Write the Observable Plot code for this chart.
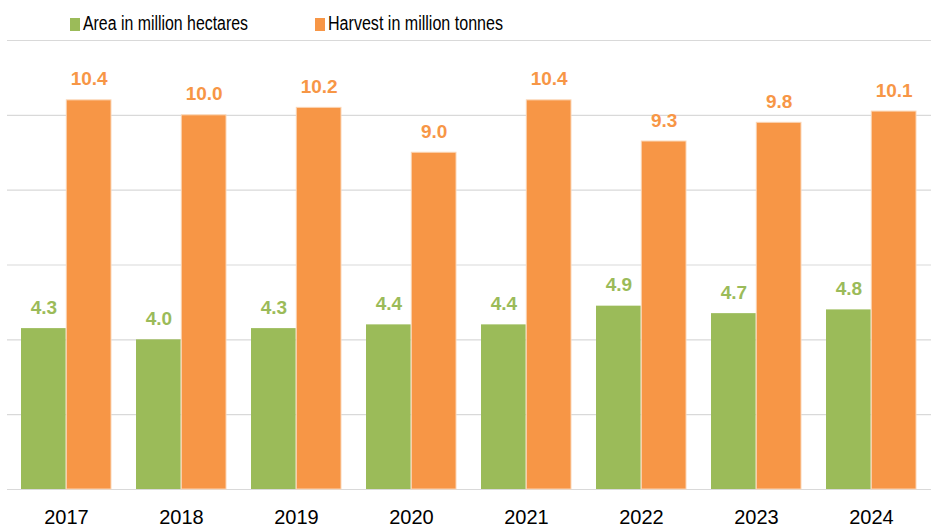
<!DOCTYPE html>
<html>
<head>
<meta charset="utf-8">
<script src="https://cdn.jsdelivr.net/npm/d3@7"></script>
<script src="https://cdn.jsdelivr.net/npm/@observablehq/plot@0.6"></script>
<style>
  html, body { margin: 0; padding: 0; background: #fff; overflow: hidden; }
  #legend { display: block; }
  #chart svg { display: block; }
</style>
</head>
<body>
<svg id="legend" width="931" height="36"></svg>
<div id="chart"></div>
<script>
const years = ["2017", "2018", "2019", "2020", "2021", "2022", "2023", "2024"];
const area = [4.3, 4.0, 4.3, 4.4, 4.4, 4.9, 4.7, 4.8];
const harvest = [10.4, 10.0, 10.2, 9.0, 10.4, 9.3, 9.8, 10.1];
const seriesNames = ["Area in million hectares", "Harvest in million tonnes"];
const colors = ["#9BBB59", "#F79646"];
const yTicks = [0, 2, 4, 6, 8, 10, 12];

const table = years.map((y, i) => ({year: y, area: area[i], harvest: harvest[i]}));

// Legend
const lg = d3.select("#legend");
const legendX = [70, 315];
const legendW = [165, 175];
seriesNames.forEach((name, i) => {
  lg.append("rect").attr("x", legendX[i]).attr("y", 18).attr("width", 10).attr("height", 13).attr("fill", colors[i]);
  lg.append("text")
    .attr("x", legendX[i] + 13)
    .attr("y", 30)
    .attr("textLength", legendW[i])
    .attr("lengthAdjust", "spacingAndGlyphs")
    .attr("font-family", "Liberation Sans, Arial, sans-serif")
    .attr("font-size", 19.5)
    .attr("fill", "#000")
    .text(name);
});

const half = 45.3;
const font = "Liberation Sans, Arial, sans-serif";

const plot = Plot.plot({
  width: 931,
  height: 493,
  marginTop: 4,
  marginBottom: 40,
  marginLeft: 7,
  marginRight: 0,
  style: {fontFamily: font, background: "#fff"},
  x: {domain: years, paddingInner: 0.215, paddingOuter: 0.1075, label: null},
  y: {domain: [0, 12], label: null, axis: null},
  marks: [
    Plot.ruleY(yTicks, {stroke: "#d9d9d9", strokeWidth: 1.2}),
    Plot.barY(table, {x: "year", y: "area", fill: colors[0], insetRight: half}),
    Plot.barY(table, {x: "year", y: "harvest", fill: colors[1], stroke: "#fbd5b5", strokeWidth: 1, insetLeft: half}),
    Plot.text(table, {x: "year", y: "area", text: d => d.area.toFixed(1), dx: -half / 2, dy: -15, lineAnchor: "bottom",
      fill: colors[0], fontWeight: "bold", fontSize: 19}),
    Plot.text(table, {x: "year", y: "harvest", text: d => d.harvest.toFixed(1), dx: half / 2, dy: -15, lineAnchor: "bottom",
      fill: colors[1], fontWeight: "bold", fontSize: 19}),
    Plot.axisX({tickSize: 0, tickPadding: 20, fontSize: 20, fill: "#000", label: null}),
  ]
});
document.getElementById("chart").appendChild(plot);
</script>
</body>
</html>
